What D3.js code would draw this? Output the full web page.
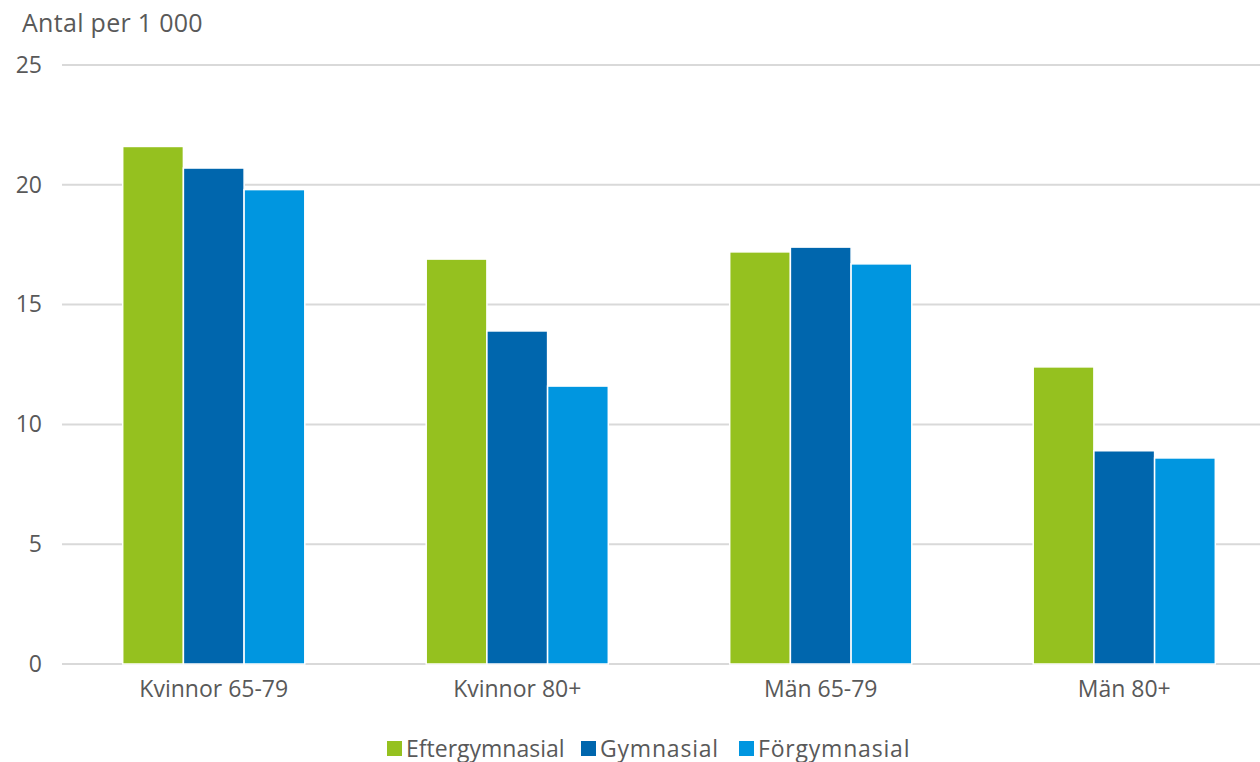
<!doctype html>
<html lang="sv">
<head>
<meta charset="utf-8" />
<title>Antal per 1 000</title>
<script src="https://d3js.org/d3.v7.min.js"></script>
<style type="text/css">
  body { margin: 0; background: #fff; }
  text { font-family: "Open Sans", "Noto Sans", sans-serif; fill: #595959; }
</style>
</head>
<body>
<div id="svg_div"></div>
<script>
// data
var categories = ["Kvinnor 65-79", "Kvinnor 80+", "Män 65-79", "Män 80+"];
var seriesNames = ["Eftergymnasial", "Gymnasial", "Förgymnasial"];
var eftergymnasial = [21.6, 16.9, 17.2, 12.4];
var gymnasial = [20.7, 13.9, 17.4, 8.9];
var forgymnasial = [19.8, 11.6, 16.7, 8.6];
var yTicks = [0, 5, 10, 15, 20, 25];
var colours = ["#95C11F", "#0066AD", "#0096E0"];

var seriesValues = [eftergymnasial, gymnasial, forgymnasial];

var width = 1260, height = 762;
var plotLeft = 62, plotRight = 1276, plotTop = 65, plotBottom = 664;

var svg = d3.select("#svg_div").append("svg")
  .attr("width", width)
  .attr("height", height);

var yScale = d3.scaleLinear().domain([0, 25]).range([plotBottom, plotTop]);
var xScale = d3.scaleBand().domain(categories).range([plotLeft, plotRight]);
// inner band for the three bars of a group
var groupW = xScale.bandwidth() * 0.6;
var xInner = d3.scaleBand().domain(seriesNames).range([0, groupW]);

// gridlines
svg.append("g")
  .selectAll("line")
  .data(yTicks)
  .enter().append("line")
    .attr("x1", plotLeft)
    .attr("x2", width)
    .attr("y1", function(d){ return yScale(d); })
    .attr("y2", function(d){ return yScale(d); })
    .attr("stroke", "#d9d9d9")
    .attr("stroke-width", 2);

// y axis labels
var yAxis = d3.axisLeft(yScale).tickValues(yTicks).tickSize(0).tickPadding(0);
var yG = svg.append("g")
  .attr("transform", "translate(42,0)")
  .call(yAxis);
yG.select(".domain").remove();
yG.selectAll("text")
  .attr("font-size", "23px")
  .attr("fill", "#595959")
  .attr("font-family", "'Open Sans', 'Noto Sans', sans-serif");

// bars
var groups = svg.append("g")
  .selectAll("g")
  .data(categories)
  .enter().append("g")
    .attr("transform", function(d){
      return "translate(" + (xScale(d) + (xScale.bandwidth() - groupW) / 2) + ",0)";
    });

groups.selectAll("rect")
  .data(function(d, i){
    return seriesNames.map(function(s, j){ return { s: s, v: seriesValues[j][i], c: colours[j] }; });
  })
  .enter().append("rect")
    .attr("x", function(d){ return xInner(d.s); })
    .attr("y", function(d){ return yScale(d.v); })
    .attr("width", xInner.bandwidth())
    .attr("height", function(d){ return plotBottom - yScale(d.v); })
    .attr("fill", function(d){ return d.c; })
    .attr("stroke", "#fff")
    .attr("stroke-width", 1.5);

// x axis labels
var xAxis = d3.axisBottom(xScale).tickSize(0).tickPadding(0);
var xG = svg.append("g")
  .attr("transform", "translate(0," + (plotBottom + 17) + ")")
  .call(xAxis);
xG.select(".domain").remove();
xG.selectAll("text")
  .attr("font-size", "23px")
  .attr("fill", "#595959")
  .attr("font-family", "'Open Sans', 'Noto Sans', sans-serif");

// axis title
svg.append("text")
  .attr("x", 22)
  .attr("y", 32)
  .attr("font-size", "25px")
  .attr("letter-spacing", "0.3px")
  .text("Antal per 1 000");

// legend
var legendX = [387, 581, 739];
var legend = svg.append("g")
  .selectAll("g")
  .data(seriesNames)
  .enter().append("g")
    .attr("transform", function(d, i){ return "translate(" + legendX[i] + ",741)"; });
legend.append("rect")
  .attr("width", 15)
  .attr("height", 15)
  .attr("fill", function(d, i){ return colours[i]; });
legend.append("text")
  .attr("x", 19)
  .attr("y", 15.5)
  .attr("font-size", "23px")
  .attr("letter-spacing", function(d, i){ return i === 0 ? "0px" : "0.8px"; })
  .text(function(d){ return d; });
</script>
</body>
</html>
